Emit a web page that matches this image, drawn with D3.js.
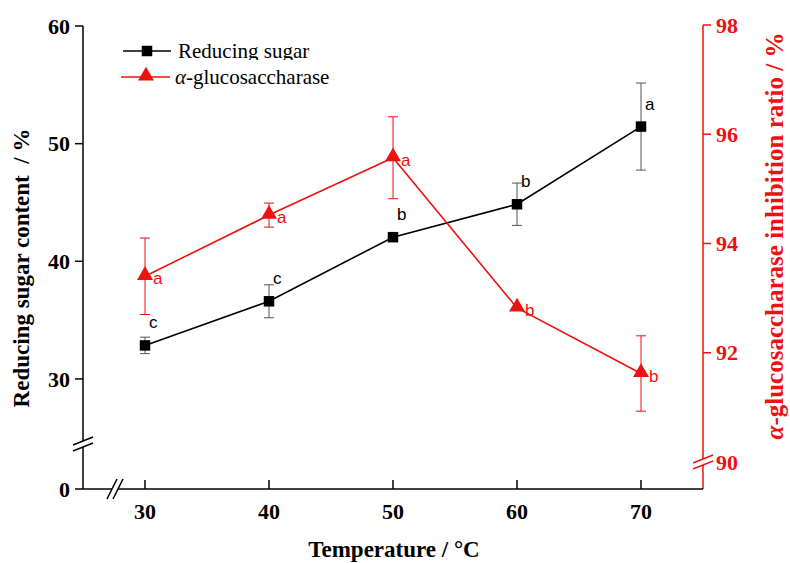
<!DOCTYPE html>
<html>
<head>
<meta charset="utf-8">
<script src="https://cdn.jsdelivr.net/npm/d3@7"></script>
<style>
  body { margin: 0; background: #fff; }
  svg { display: block; }
</style>
</head>
<body>
<svg width="790" height="563"></svg>
<script>
// temperature, deg C
var temps = [30, 40, 50, 60, 70];
// reducing sugar content (%) and its error
var sugar = [32.85, 36.6, 42.05, 44.85, 51.45];
var sugarErr = [0.7, 1.4, 0.0, 1.8, 3.7];
var sugarLetters = ["c", "c", "b", "b", "a"];
// alpha-glucosaccharase inhibition ratio (%) and its error
var inhib = [93.4, 94.52, 95.57, 92.82, 91.62];
var inhibErr = [0.7, 0.22, 0.75, 0.0, 0.69];
var inhibLetters = ["a", "a", "a", "b", "b"];

var xTicks = [30, 40, 50, 60, 70];
var leftTicks = [0, 30, 40, 50, 60];
var rightTicks = [90, 92, 94, 96, 98];

var svg = d3.select("svg");
var red = "#ee1111";
var serif = "'Liberation Serif', 'Times New Roman', serif";
var sans = "'Liberation Sans', Arial, sans-serif";

var x = d3.scaleLinear().domain([25, 75]).range([83, 703]);
// left axis is broken between 0 and ~24
var yL = d3.scaleLinear().domain([0, 24.3, 60]).range([489, 446, 26]);
var yR = d3.scaleLinear().domain([90, 98]).range([462, 25]);

var bottom = 489;

// left axis
var gL = svg.append("g").attr("transform", "translate(" + x(25) + ",0)");
gL.append("line").attr("y1", yL(60)).attr("y2", bottom).attr("stroke", "#000").attr("stroke-width", 1.5);
gL.selectAll(".t").data(leftTicks).enter().append("line")
    .attr("x1", -8).attr("x2", 0)
    .attr("y1", function (d) { return yL(d); }).attr("y2", function (d) { return yL(d); })
    .attr("stroke", "#000").attr("stroke-width", 1.5);
gL.selectAll("text").data(leftTicks).enter().append("text")
    .attr("x", -13).attr("y", function (d) { return yL(d); })
    .attr("dy", "0.35em").attr("text-anchor", "end")
    .style("font", "bold 22px " + serif)
    .text(function (d) { return d; });

// right axis
var gR = svg.append("g").attr("transform", "translate(" + x(75) + ",0)");
gR.append("line").attr("y1", yR(98)).attr("y2", bottom).attr("stroke", red).attr("stroke-width", 1.5);
gR.selectAll(".t").data(rightTicks.filter(function (d) { return d > 90; })).enter().append("line")
    .attr("x1", 0).attr("x2", 8)
    .attr("y1", function (d) { return yR(d); }).attr("y2", function (d) { return yR(d); })
    .attr("stroke", red).attr("stroke-width", 1.5);
gR.selectAll("text").data(rightTicks).enter().append("text")
    .attr("x", 13).attr("y", function (d) { return yR(d); })
    .attr("dy", "0.35em")
    .attr("fill", red)
    .style("font", "bold 22px " + serif)
    .text(function (d) { return d; });

// bottom axis
var gB = svg.append("g").attr("transform", "translate(0," + bottom + ")");
gB.append("line").attr("x1", x(25)).attr("x2", x(75)).attr("stroke", "#000").attr("stroke-width", 1.5);
gB.selectAll(".t").data(xTicks).enter().append("line")
    .attr("x1", function (d) { return x(d); }).attr("x2", function (d) { return x(d); })
    .attr("y1", -9).attr("y2", 0)
    .attr("stroke", "#000").attr("stroke-width", 1.5);
gB.selectAll("text").data(xTicks).enter().append("text")
    .attr("x", function (d) { return x(d); }).attr("y", 30)
    .attr("text-anchor", "middle")
    .style("font", "bold 22px " + serif)
    .text(function (d) { return d; });

// axis breaks
function breakMark(cx, cy, vertical, color) {
    var g = svg.append("g").attr("transform", "translate(" + cx + "," + cy + ")");
    if (vertical) {
        g.append("rect").attr("x", -4).attr("y", -3).attr("width", 8).attr("height", 6).attr("fill", "#fff");
        [-3, 3].forEach(function (o) {
            g.append("line").attr("x1", -10).attr("y1", o + 4).attr("x2", 10).attr("y2", o - 4)
                .attr("stroke", color).attr("stroke-width", 1.5);
        });
    } else {
        g.append("rect").attr("x", -3).attr("y", -4).attr("width", 6).attr("height", 8).attr("fill", "#fff");
        [-3, 3].forEach(function (o) {
            g.append("line").attr("x1", o - 5).attr("y1", 10).attr("x2", o + 5).attr("y2", -10)
                .attr("stroke", color).attr("stroke-width", 1.5);
        });
    }
}
breakMark(x(25), 444, true, "#000");
breakMark(x(75), 462, true, red);
breakMark(115, bottom, false, "#000");

var sData = temps.map(function (t, i) { return { t: t, v: sugar[i], e: sugarErr[i], l: sugarLetters[i] }; });
var iData = temps.map(function (t, i) { return { t: t, v: inhib[i], e: inhibErr[i], l: inhibLetters[i] }; });

function errBars(data, y, color) {
    var g = svg.append("g").attr("stroke", color).attr("stroke-width", 1);
    data.filter(function (d) { return d.e > 0; }).forEach(function (d) {
        var cx = x(d.t);
        g.append("line").attr("x1", cx).attr("x2", cx).attr("y1", y(d.v - d.e)).attr("y2", y(d.v + d.e));
        [d.v - d.e, d.v + d.e].forEach(function (v) {
            g.append("line").attr("x1", cx - 5).attr("x2", cx + 5).attr("y1", y(v)).attr("y2", y(v));
        });
    });
}
errBars(sData, yL, "#555");
errBars(iData, yR, red);

var lineS = d3.line().x(function (d) { return x(d.t); }).y(function (d) { return yL(d.v); });
var lineI = d3.line().x(function (d) { return x(d.t); }).y(function (d) { return yR(d.v); });

svg.append("path").datum(sData).attr("d", lineS).attr("fill", "none").attr("stroke", "#000").attr("stroke-width", 1.6);
svg.append("path").datum(iData).attr("d", lineI).attr("fill", "none").attr("stroke", red).attr("stroke-width", 1.6);

var sq = d3.symbol().type(d3.symbolSquare).size(110);
var tri = d3.symbol().type(d3.symbolTriangle).size(110);

svg.selectAll(".sq").data(sData).enter().append("path")
    .attr("d", sq)
    .attr("transform", function (d) { return "translate(" + x(d.t) + "," + yL(d.v) + ")"; })
    .attr("fill", "#000");
svg.selectAll(".tri").data(iData).enter().append("path")
    .attr("d", tri)
    .attr("transform", function (d) { return "translate(" + x(d.t) + "," + (yR(d.v) - 1) + ")"; })
    .attr("fill", red);

svg.selectAll(".ls").data(sData).enter().append("text")
    .attr("x", function (d) { return x(d.t) + 4; })
    .attr("y", function (d) { return yL(d.v) - 17; })
    .style("font", "17px " + sans)
    .text(function (d) { return d.l; });
svg.selectAll(".li").data(iData).enter().append("text")
    .attr("x", function (d) { return x(d.t) + 8; })
    .attr("y", function (d) { return yR(d.v) + 8; })
    .attr("fill", red)
    .style("font", "17px " + sans)
    .text(function (d) { return d.l; });

// legend
var leg = svg.append("g");
leg.append("clipPath").attr("id", "legclip").append("rect").attr("x", 0).attr("y", 0).attr("width", 400).attr("height", 60);
leg.append("line").attr("x1", 123).attr("x2", 171).attr("y1", 51).attr("y2", 51).attr("stroke", "#000").attr("stroke-width", 1.6);
leg.append("path").attr("d", sq).attr("transform", "translate(147,51)").attr("fill", "#000");
leg.append("text").attr("x", 178).attr("y", 58).attr("clip-path", "url(#legclip)")
    .style("font", "21px " + serif).text("Reducing sugar");
leg.append("line").attr("x1", 121).attr("x2", 170).attr("y1", 77).attr("y2", 77).attr("stroke", red).attr("stroke-width", 1.6);
leg.append("path").attr("d", tri).attr("transform", "translate(146,76)").attr("fill", red);
var lt = leg.append("text").attr("x", 175).attr("y", 84).style("font", "21px " + serif);
lt.append("tspan").style("font-style", "italic").text("α");
lt.append("tspan").text("-glucosaccharase");

// axis titles
svg.append("text")
    .attr("transform", "translate(29,268) rotate(-90)")
    .attr("text-anchor", "middle")
    .style("font", "bold 23px " + serif)
    .style("white-space", "pre")
    .text("Reducing sugar content  / %");

var rt = svg.append("text")
    .attr("transform", "translate(783,236) rotate(-90)")
    .attr("text-anchor", "middle")
    .attr("fill", red)
    .style("font", "bold 25px " + serif);
rt.append("tspan").style("font-style", "italic").text("α");
rt.append("tspan").text("-glucosaccharase inhibition ratio / %");

svg.append("text")
    .attr("x", 394).attr("y", 557)
    .attr("text-anchor", "middle")
    .style("font", "bold 23px " + serif)
    .text("Temperature / °C");
</script>
</body>
</html>
